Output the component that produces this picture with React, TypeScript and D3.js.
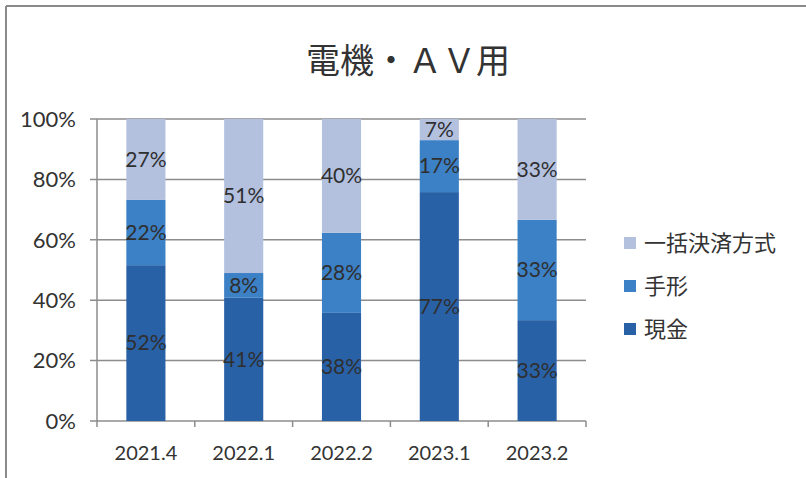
import React from "react";
import * as d3 from "d3";

const categories = ["2021.4", "2022.1", "2022.2", "2023.1", "2023.2"];
const seriesNames = ["現金", "手形", "一括決済方式"];
// bar values (share of 100%)
const genkin = [51.6, 40.8, 35.8, 75.8, 33.4];
const tegata = [21.6, 8.2, 26.5, 17.2, 33.2];
const ikkatsu = [26.8, 51.0, 37.7, 7.0, 33.4];
// data label texts as printed
const genkinLabels = ["52%", "41%", "38%", "77%", "33%"];
const tegataLabels = ["22%", "8%", "28%", "17%", "33%"];
const ikkatsuLabels = ["27%", "51%", "40%", "7%", "33%"];
const yTicks = [0, 20, 40, 60, 80, 100];
const colors = ["#2961a7", "#3c80c5", "#b3c1df"];

export default function App() {
  const W = 806, H = 478;
  const left = 97, right = 586, top = 119, bottom = 421;
  const x = d3.scaleBand().domain(categories).range([left, right]).paddingInner(0.6).paddingOuter(0.3);
  const xOuter = d3.scaleBand().domain(categories).range([left, right]);
  const y = d3.scaleLinear().domain([0, 100]).range([bottom, top]);
  const rows = categories.map((c, i) => ({ cat: c, s0: genkin[i], s1: tegata[i], s2: ikkatsu[i] }));
  const stack = d3.stack<any>().keys(["s0", "s1", "s2"]);
  const layers = stack(rows);
  const labels = [genkinLabels, tegataLabels, ikkatsuLabels];
  const font = "Lato, 'Noto Sans CJK JP', sans-serif";
  const legendItems = [
    { name: seriesNames[2], color: colors[2] },
    { name: seriesNames[1], color: colors[1] },
    { name: seriesNames[0], color: colors[0] },
  ];
  return (
    <svg width={W} height={H} style={{ position: "absolute", left: 0, top: 0, background: "#fff" }}>
      <rect x={0} y={0} width={W} height={H} fill="#fff" />
      {/* frame */}
      <line x1={6} y1={6} x2={W} y2={6} stroke="#8a8a8a" strokeWidth={2} />
      <line x1={6} y1={6} x2={6} y2={H} stroke="#8a8a8a" strokeWidth={2} />
      {/* title */}
      <text x={408} y={73} textAnchor="middle" fontFamily="'Noto Sans CJK JP', sans-serif" fontSize={34} fill="#333">
        電機・ＡＶ用
      </text>
      {/* gridlines */}
      {yTicks.map((t) => (
        <g key={t}>
          <line x1={left - 7} x2={right} y1={y(t)} y2={y(t)} stroke="#8c8c8c" strokeWidth={1.5} />
          <text x={76} y={y(t)} dy="0.35em" textAnchor="end" fontFamily={font} fontSize={22} fill="#333">
            {t}%
          </text>
        </g>
      ))}
      <line x1={left} x2={left} y1={top} y2={bottom} stroke="#8c8c8c" strokeWidth={1.5} />
      {/* x ticks */}
      {categories.map((c) => (
        <line key={c} x1={xOuter(c)!} x2={xOuter(c)!} y1={bottom} y2={bottom + 6} stroke="#8c8c8c" strokeWidth={1.5} />
      ))}
      <line x1={right} x2={right} y1={bottom} y2={bottom + 6} stroke="#8c8c8c" strokeWidth={1.5} />
      {/* bars */}
      {layers.map((layer, li) => (
        <g key={li}>
          {layer.map((d, i) => (
            <rect key={i} x={x(categories[i])!} width={x.bandwidth()} y={y(d[1])} height={y(d[0]) - y(d[1])} fill={colors[li]} />
          ))}
        </g>
      ))}
      {/* labels */}
      {layers.map((layer, li) => (
        <g key={"l" + li}>
          {layer.map((d, i) => (
            <text key={i} x={x(categories[i])! + x.bandwidth() / 2} y={(y(d[0]) + y(d[1])) / 2} dy="0.35em"
              textAnchor="middle" fontFamily={font} fontSize={21} fill="#2f2f2f">
              {labels[li][i]}
            </text>
          ))}
        </g>
      ))}
      {/* x labels */}
      {categories.map((c) => (
        <text key={c} x={xOuter(c)! + xOuter.bandwidth() / 2} y={453} dy="0.35em" textAnchor="middle" fontFamily={font} fontSize={20} fill="#333">
          {c}
        </text>
      ))}
      {/* legend */}
      {legendItems.map((it, i) => (
        <g key={it.name} transform={`translate(624, ${243 + i * 43})`}>
          <rect x={0} y={-6} width={12} height={12} fill={it.color} />
          <text x={20} y={0} dy="0.35em" fontFamily="'Noto Sans CJK JP', sans-serif" fontSize={22} fill="#333">
            {it.name}
          </text>
        </g>
      ))}
    </svg>
  );
}
